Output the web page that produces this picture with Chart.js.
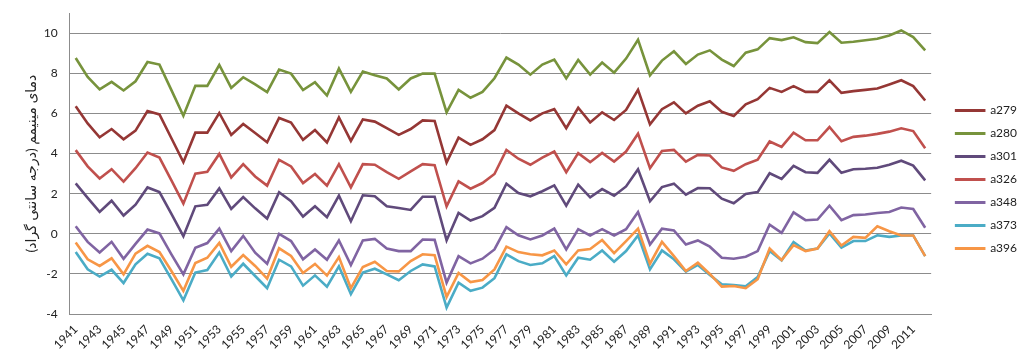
<!DOCTYPE html>
<html>
<head>
<meta charset="utf-8">
<script src="https://cdn.jsdelivr.net/npm/chart.js@4"></script>
<style>
  html, body { margin: 0; padding: 0; background: #fff; }
  #wrap { width: 1024px; height: 358px; }
</style>
</head>
<body>
<div id="wrap"><canvas id="myChart" width="1024" height="358"></canvas></div>
<script>
const years = [];
for (let y = 1941; y <= 2012; y++) years.push(String(y));

const yTicks = [-4, -2, 0, 2, 4, 6, 8, 10];

const a279 = [6.36, 5.5, 4.81, 5.22, 4.71, 5.14, 6.12, 5.95, 4.76, 3.57, 5.04, 5.04, 6.02, 4.93, 5.47, 5.02, 4.56, 5.77,
  5.54, 4.68, 5.17, 4.55, 5.8, 4.63, 5.7, 5.59, 5.26, 4.93, 5.22, 5.65, 5.62, 3.55, 4.79, 4.43, 4.71, 5.17,
  6.38, 6.0, 5.65, 6.0, 6.21, 5.26, 6.28, 5.55, 6.05, 5.67, 6.17, 7.17, 5.45, 6.21, 6.55, 6.0, 6.38, 6.6,
  6.08, 5.87, 6.45, 6.71, 7.27, 7.07, 7.36, 7.07, 7.07, 7.65, 7.02, 7.11, 7.17, 7.24, 7.44, 7.65, 7.36, 6.64];
const a280 = [8.76, 7.82, 7.2, 7.57, 7.14, 7.6, 8.56, 8.43, 7.16, 5.88, 7.37, 7.37, 8.41, 7.27, 7.8, 7.44, 7.06, 8.18,
  7.98, 7.16, 7.55, 6.89, 8.23, 7.07, 8.08, 7.9, 7.74, 7.19, 7.74, 7.98, 7.98, 6.05, 7.17, 6.78, 7.07, 7.75,
  8.78, 8.43, 7.93, 8.43, 8.68, 7.74, 8.66, 7.93, 8.53, 8.03, 8.73, 9.67, 7.9, 8.63, 9.09, 8.46, 8.93, 9.14,
  8.68, 8.36, 9.02, 9.19, 9.75, 9.65, 9.79, 9.55, 9.5, 10.05, 9.52, 9.57, 9.64, 9.72, 9.88, 10.13, 9.8, 9.14];
const a301 = [2.51, 1.79, 1.09, 1.65, 0.91, 1.45, 2.31, 2.08, 0.99, -0.12, 1.37, 1.45, 2.26, 1.24, 1.83, 1.27, 0.76, 2.07,
  1.62, 0.86, 1.37, 0.83, 1.9, 0.63, 1.92, 1.87, 1.37, 1.29, 1.19, 1.85, 1.85, -0.33, 1.04, 0.66, 0.88, 1.29,
  2.5, 2.03, 1.87, 2.12, 2.41, 1.4, 2.45, 1.82, 2.23, 1.9, 2.36, 3.22, 1.62, 2.33, 2.5, 1.95, 2.28, 2.27,
  1.75, 1.52, 1.98, 2.08, 3.02, 2.74, 3.39, 3.07, 3.04, 3.69, 3.04, 3.22, 3.24, 3.29, 3.44, 3.64, 3.4, 2.66];
const a326 = [4.17, 3.36, 2.76, 3.22, 2.6, 3.27, 4.05, 3.8, 2.66, 1.5, 3.0, 3.09, 3.98, 2.81, 3.47, 2.86, 2.4, 3.69,
  3.36, 2.53, 2.98, 2.4, 3.47, 2.31, 3.47, 3.44, 3.07, 2.74, 3.11, 3.47, 3.42, 1.37, 2.61, 2.25, 2.53, 2.98,
  4.18, 3.74, 3.44, 3.8, 4.1, 3.07, 4.02, 3.57, 4.03, 3.6, 4.1, 4.99, 3.27, 4.13, 4.18, 3.6, 3.93, 3.9,
  3.31, 3.14, 3.47, 3.69, 4.6, 4.33, 5.04, 4.66, 4.66, 5.32, 4.61, 4.83, 4.89, 4.98, 5.09, 5.26, 5.12, 4.26];
const a348 = [0.38, -0.4, -0.93, -0.4, -1.24, -0.5, 0.21, 0.02, -1.02, -2.02, -0.69, -0.46, 0.26, -0.86, -0.1, -0.94, -1.49, 0.0,
  -0.36, -1.27, -0.78, -1.29, -0.33, -1.55, -0.33, -0.25, -0.73, -0.86, -0.86, -0.28, -0.3, -2.43, -1.11, -1.47, -1.24, -0.78,
  0.33, -0.07, -0.28, -0.08, 0.26, -0.78, 0.23, -0.08, 0.23, -0.08, 0.23, 1.09, -0.53, 0.26, 0.17, -0.53, -0.33, -0.64,
  -1.19, -1.24, -1.14, -0.86, 0.46, 0.05, 1.07, 0.68, 0.71, 1.4, 0.68, 0.93, 0.96, 1.04, 1.09, 1.31, 1.24, 0.3];
const a373 = [-0.91, -1.77, -2.13, -1.79, -2.45, -1.52, -0.99, -1.22, -2.26, -3.31, -1.93, -1.8, -0.93, -2.13, -1.49, -2.1, -2.71, -1.29,
  -1.62, -2.58, -2.07, -2.63, -1.62, -3.0, -1.93, -1.74, -2.02, -2.31, -1.85, -1.52, -1.62, -3.67, -2.43, -2.84, -2.68, -2.21,
  -1.02, -1.36, -1.55, -1.47, -1.11, -2.07, -1.19, -1.29, -0.83, -1.39, -0.86, -0.08, -1.77, -0.83, -1.27, -1.88, -1.55, -2.05,
  -2.51, -2.55, -2.61, -2.15, -0.86, -1.32, -0.41, -0.83, -0.73, 0.02, -0.69, -0.36, -0.36, -0.07, -0.15, -0.08, -0.08, -1.11];
const a396 = [-0.43, -1.27, -1.6, -1.22, -2.02, -0.99, -0.6, -0.91, -1.85, -2.84, -1.45, -1.19, -0.45, -1.64, -1.06, -1.6, -2.23, -0.72,
  -1.1, -1.95, -1.5, -2.08, -1.16, -2.71, -1.65, -1.39, -1.85, -1.87, -1.36, -1.02, -1.07, -3.14, -1.95, -2.4, -2.3, -1.77,
  -0.64, -0.91, -1.02, -1.07, -0.83, -1.52, -0.83, -0.76, -0.31, -0.96, -0.36, 0.26, -1.49, -0.4, -1.11, -1.85, -1.44, -2.0,
  -2.63, -2.6, -2.71, -2.26, -0.73, -1.31, -0.56, -0.86, -0.73, 0.13, -0.58, -0.15, -0.2, 0.38, 0.13, -0.08, -0.08, -1.11];

const yTitle = 'دمای مینیمم (درجه سانتی گراد)';
const fontFam = "Lato, 'DejaVu Sans', sans-serif";
const gridGray = '#8c8c8c';

function line(label, data, color) {
    return {
        label: label,
        data: data,
        borderColor: color,
        backgroundColor: color,
        borderWidth: 2.6,
        pointRadius: 0,
        tension: 0,
        fill: false
    };
}

// last series first so it is painted on top (like Excel), legend reversed back
const datasets = [
    line('a396', a396, '#F79646'),
    line('a373', a373, '#4BACC6'),
    line('a348', a348, '#8064A2'),
    line('a326', a326, '#C0504D'),
    line('a301', a301, '#604A7B'),
    line('a280', a280, '#77933C'),
    line('a279', a279, '#953735')
];

// push the legend a bit to the right of the plot area (legend clips to its box, so move all edges)
const legendShift = {
    id: 'legendShift',
    afterLayout(chart) {
        const lg = chart.legend;
        lg.left += 14; lg.right += 14;
        lg.top -= 3; lg.bottom -= 3;
    }
};

var ctx = document.getElementById('myChart').getContext('2d');
var chart = new Chart(ctx, {
    type: 'line',
    data: { labels: years, datasets: datasets },
    plugins: [legendShift],
    options: {
        responsive: false,
        animation: false,
        layout: { padding: { left: 23, right: 11, top: 13, bottom: 6 } },
        plugins: {
            tooltip: { enabled: false },
            legend: {
                position: 'right',
                reverse: true,
                labels: {
                    boxWidth: 28,
                    boxHeight: 0.5,
                    padding: 11,
                    color: '#222',
                    font: { family: fontFam, size: 12 }
                }
            }
        },
        scales: {
            x: {
                offset: true,
                grid: { display: false },
                border: { color: gridGray },
                ticks: {
                    autoSkip: false,
                    maxRotation: 45,
                    minRotation: 45,
                    padding: 0,
                    color: '#222',
                    font: { family: fontFam, size: 12 },
                    callback: function (v, i) { return i % 2 === 0 ? years[i] : ''; }
                }
            },
            y: {
                min: -4,
                max: 11,
                afterBuildTicks: function (axis) {
                    axis.ticks = yTicks.map(v => ({ value: v }));
                },
                // invisible tick marks give the gap between labels and axis
                grid: { color: gridGray, drawTicks: true, tickLength: 12, tickColor: 'rgba(0,0,0,0)' },
                border: { color: gridGray },
                ticks: {
                    padding: 0,
                    color: '#222',
                    font: { family: fontFam, size: 12 }
                },
                title: {
                    display: true,
                    text: yTitle,
                    color: '#222',
                    padding: { top: 0, bottom: 4 },
                    font: { family: fontFam, size: 14 }
                }
            }
        }
    }
});
</script>
</body>
</html>
